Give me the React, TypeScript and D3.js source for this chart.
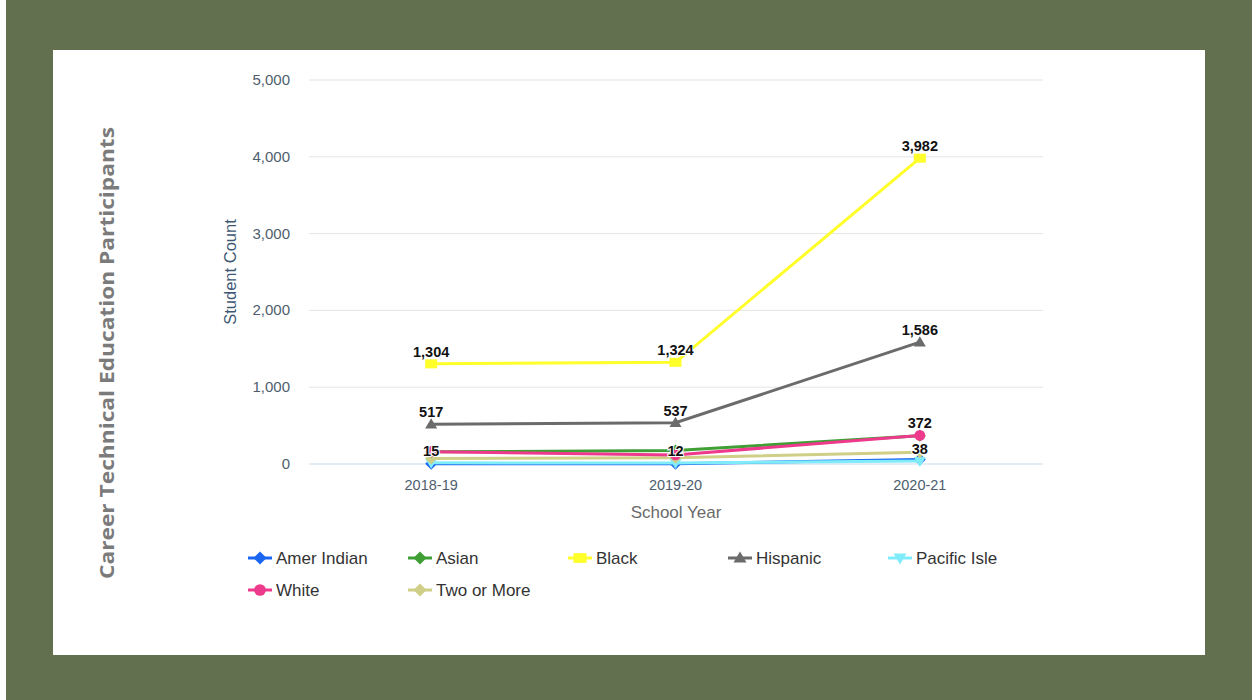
import React from "react";
import * as d3 from "d3";

const years = ["2018-19", "2019-20", "2020-21"];
const seriesNames = ["Amer Indian", "Asian", "Black", "Hispanic", "Pacific Isle", "White", "Two or More"];
const amerIndian = [3, 4, 60];
const asian = [158, 175, 368];
const black = [1304, 1324, 3982];
const hispanic = [517, 537, 1586];
const pacificIsle = [15, 12, 38];
const white = [160, 118, 372];
const twoOrMore = [70, 82, 152];
const yTicks = [0, 1000, 2000, 3000, 4000, 5000];
// which points carry a data label
const labelAmerIndian = [false, false, false];
const labelAsian = [false, false, false];
const labelBlack = [true, true, true];
const labelHispanic = [true, true, true];
const labelPacificIsle = [true, true, true];
const labelWhite = [false, false, true];
const labelTwoOrMore = [false, false, false];

const colors = ["#1a66f0", "#3f9f35", "#ffff2a", "#6b6b6b", "#80ecfa", "#ee3a8c", "#cfcf88"];
const shapes = ["diamond", "diamond", "square", "triangle", "triangledown", "circle", "diamond"];

const allValues = [amerIndian, asian, black, hispanic, pacificIsle, white, twoOrMore];
const allLabels = [labelAmerIndian, labelAsian, labelBlack, labelHispanic, labelPacificIsle, labelWhite, labelTwoOrMore];
// drawing order (bottom to top)
const drawOrder = [0, 4, 6, 1, 5, 3, 2];

function Marker({ shape, x, y, color, size }: { shape: string; x: number; y: number; color: string; size: number }) {
  const s = size;
  if (shape === "circle") return <circle cx={x} cy={y} r={s * 0.9} fill={color} />;
  if (shape === "square") return <rect x={x - s} y={y - s * 0.75} width={s * 2} height={s * 1.5} fill={color} />;
  if (shape === "triangle")
    return <path d={`M${x},${y - s} L${x + s},${y + s * 0.7} L${x - s},${y + s * 0.7} Z`} fill={color} />;
  if (shape === "triangledown")
    return <path d={`M${x},${y + s} L${x + s},${y - s * 0.7} L${x - s},${y - s * 0.7} Z`} fill={color} />;
  return <path d={`M${x},${y - s} L${x + s},${y} L${x},${y + s} L${x - s},${y} Z`} fill={color} />;
}

export default function App() {
  const W = 1252, H = 700;
  const x = d3.scalePoint<string>().domain(years).range([309, 1042]).padding(0.5);
  const y = d3.scaleLinear().domain([0, 5000]).range([464, 80]);
  const line = d3
    .line<number>()
    .x((_, i) => x(years[i]) as number)
    .y((d) => y(d));
  const fmt = d3.format(",");
  const font = "'Liberation Sans', Arial, sans-serif";

  const legendPos = seriesNames.map((_, i) => ({
    lx: 248 + (i % 5) * 160,
    ly: 558 + Math.floor(i / 5) * 32,
  }));

  return (
    <svg width={W} height={H} style={{ position: "absolute", left: 0, top: 0 }}>
      <rect x={0} y={0} width={W} height={H} fill="#627050" />
      <rect x={0} y={0} width={6} height={H} fill="#ffffff" />
      <rect x={53} y={50} width={1152} height={605} fill="#ffffff" />

      <text
        transform="translate(114,353) rotate(-90)"
        textAnchor="middle"
        fontFamily="'Open Sans', 'DejaVu Sans', sans-serif"
        fontWeight="bold"
        fontSize={20}
        fill="#7b7b7b"
        textLength={452}
        lengthAdjust="spacingAndGlyphs"
      >
        Career Technical Education Participants
      </text>

      {yTicks.map((t) => (
        <g key={t}>
          <line x1={309} x2={1043} y1={y(t)} y2={y(t)} stroke={t === 0 ? "#c9d9ec" : "#e4e4e4"} strokeWidth={1} />
          <text x={290} y={y(t) + 5} textAnchor="end" fontFamily={font} fontSize={15} fill="#4e5e6e">
            {fmt(t)}
          </text>
        </g>
      ))}
      <text
        transform="translate(236,272) rotate(-90)"
        textAnchor="middle"
        fontFamily={font}
        fontSize={16.5}
        fill="#3e5873"
      >
        Student Count
      </text>

      {years.map((yr) => (
        <text key={yr} x={x(yr)} y={490} textAnchor="middle" fontFamily={font} fontSize={14.5} fill="#4e5e6e">
          {yr}
        </text>
      ))}
      <text x={676} y={518} textAnchor="middle" fontFamily={font} fontSize={17} fill="#6a6a6a">
        School Year
      </text>

      {drawOrder.map((si) => (
        <g key={seriesNames[si]}>
          <path d={line(allValues[si]) || ""} fill="none" stroke={colors[si]} strokeWidth={3} />
          {allValues[si].map((v, i) => (
            <Marker key={i} shape={shapes[si]} x={x(years[i]) as number} y={y(v)} color={colors[si]} size={6} />
          ))}
        </g>
      ))}

      {drawOrder.map((si) =>
        allValues[si].map((v, i) =>
          allLabels[si][i] ? (
            <text
              key={`${si}-${i}`}
              x={x(years[i]) as number}
              y={y(v) - 7}
              textAnchor="middle"
              fontFamily={font}
              fontWeight="bold"
              fontSize={14.5}
              fill="#111"
              stroke="#fff"
              strokeWidth={2}
              paintOrder="stroke"
            >
              {fmt(v)}
            </text>
          ) : null
        )
      )}

      {seriesNames.map((name, i) => {
        const { lx, ly } = legendPos[i];
        return (
          <g key={name}>
            <line x1={lx} x2={lx + 24} y1={ly} y2={ly} stroke={colors[i]} strokeWidth={3} />
            <Marker shape={shapes[i]} x={lx + 12} y={ly} color={colors[i]} size={6.5} />
            <text x={lx + 28} y={ly + 6} fontFamily={font} fontSize={17} fill="#333">
              {name}
            </text>
          </g>
        );
      })}
    </svg>
  );
}
